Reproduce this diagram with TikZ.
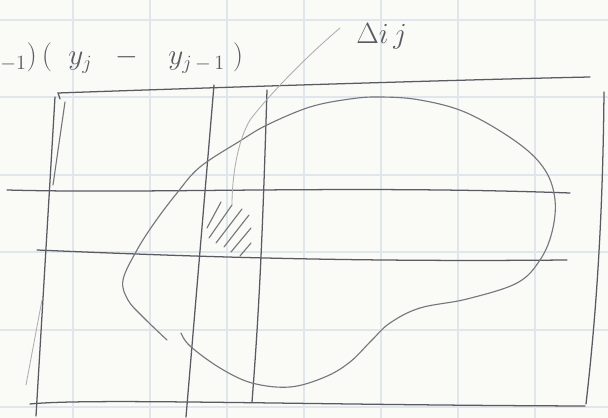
\documentclass[tikz,border=0pt]{standalone}
\usepackage{xcolor}
\usepackage{tikz}
\usetikzlibrary{positioning}
\definecolor{paper}{HTML}{FAFAF7}
\definecolor{gridblue}{HTML}{E0E6EC}
\definecolor{pencil}{HTML}{5A5A62}
\definecolor{softpencil}{HTML}{76767E}
\definecolor{faintpencil}{HTML}{ADADB2}

\begin{document}
\begin{tikzpicture}[
    x=0.025cm, y=-0.025cm,
    font=\fontsize{20}{24}\selectfont,
    gridline/.style={draw=gridblue, line width=1.2pt},
    pen/.style={draw=pencil, line width=0.9pt, line cap=round},
    softpen/.style={draw=softpencil, line width=0.8pt, line cap=round},
    faintpen/.style={draw=faintpencil, line width=0.6pt, line cap=round},
    hand/.style={text=pencil, inner sep=0pt, anchor=west}
  ]
    \fill[paper] (0,0) rectangle (608,418);
    \useasboundingbox (0,0) rectangle (608,418);

    % squared paper
    \foreach \gx in {73,150,227,304,381,458,535}
      \draw[gridline] (\gx,0) -- (\gx,418);
    \foreach \gy in {20,97,175,252,330,407}
      \draw[gridline] (0,\gy) -- (608,\gy);

    % labels
    \node[hand] (area)  at (0,58)  {${}_{-1})\,(\;\;y_j\;\;-\;\;\;y_{j\,-\,1}\;)$};
    \node[hand] (delta) at (356,36) {$\Delta i\,j$};

    % frame
    \draw[pen] (60,99) -- (58,93) .. controls (200,88) and (450,80) .. (590,77);
    \draw[pen] (604,92) .. controls (603,200) and (598,300) .. (586,404);
    \draw[pen] (30,404) .. controls (90,398) and (300,405) .. (585,406);
    \draw[pen] (55,97) -- (36,416);
    \draw[softpen] (65,102) -- (53,185);
    \draw[faintpen] (42,300) -- (26,385);

    % partition lines
    \draw[pen] (214,85) -- (186,417);
    \draw[pen] (267,90) .. controls (263,220) and (260,300) .. (252,402);
    \draw[pen] (7,190) .. controls (150,194) and (350,185) .. (570,193);
    \draw[pen] (37,250) .. controls (200,257) and (350,262) .. (567,260);

    % region
    \draw[softpen] plot[smooth, tension=0.6] coordinates {
      (181,333) (190,346) (220,368) (252,383) (290,387) (325,377) (350,362)
      (372,340) (390,323) (420,308) (467,299) (517,283) (540,260) (552,232)
      (555,200) (545,170) (518,143) (467,113) (420,100) (380,97) (350,99)
      (310,107) (267,125) (240,141) (200,167) (177,193) (155,222) (137,250)
      (123,280) (128,300) (143,317) (167,340)};

    % hatched cell
    \foreach \xa/\ya/\xb/\yb in {207/228/221/202, 209/238/232/205, 216/243/242/209,
                                 224/247/249/215, 231/252/251/228, 240/256/251/243}
      \draw[softpen] (\xa,\ya) -- (\xb,\yb);

    \coordinate (cell) at (232,205);
    \draw[faintpen] ([shift={(-16,-8)}]delta.west) .. controls (300,62) and (265,100) .. (250,120)
      .. controls (238,140) and (232,175) .. (cell);
\end{tikzpicture}
\end{document}
